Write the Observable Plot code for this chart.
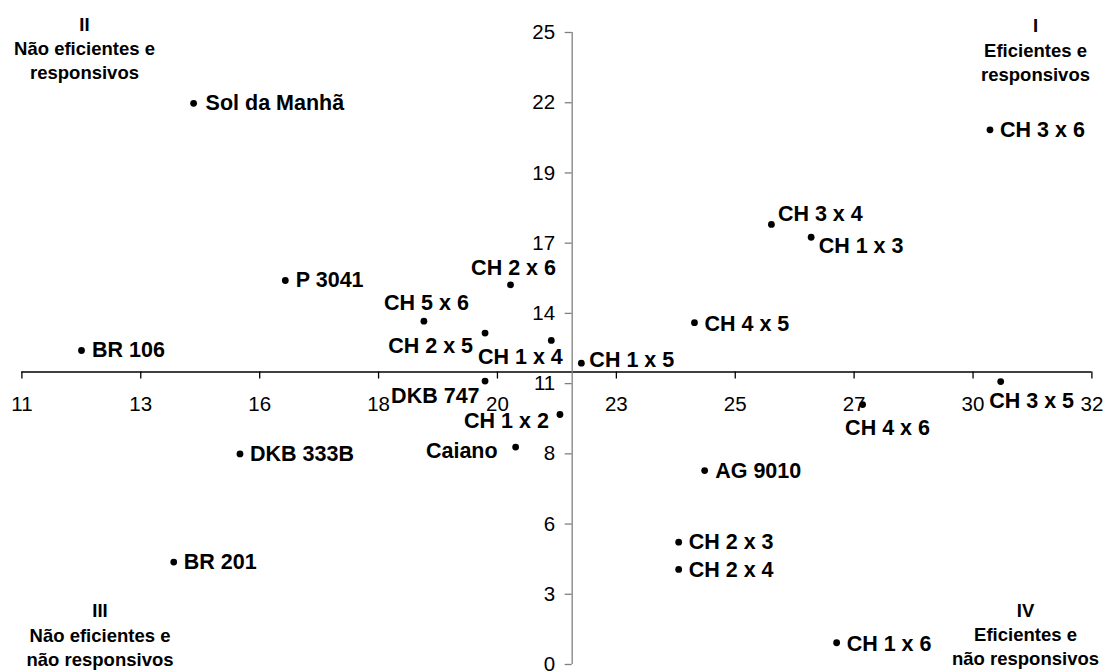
<!DOCTYPE html>
<html>
<head>
<meta charset="utf-8">
<script src="https://cdn.jsdelivr.net/npm/d3@7"></script>
<script src="https://cdn.jsdelivr.net/npm/@observablehq/plot@0.6"></script>
<style>
  html, body { margin: 0; padding: 0; background: #fff; }
  #chart svg { display: block; }
</style>
</head>
<body>
<div id="chart"></div>
<script>
// ---- data ----
const names = ["Sol da Manhã","P 3041","BR 106","DKB 333B","BR 201","Caiano","CH 1 x 2","CH 2 x 6","CH 5 x 6","CH 2 x 5","CH 1 x 4","CH 1 x 5","DKB 747","CH 3 x 6","CH 3 x 4","CH 1 x 3","CH 4 x 5","CH 3 x 5","CH 4 x 6","AG 9010","CH 2 x 3","CH 2 x 4","CH 1 x 6"];
const xValues = [14.37,16.17,12.17,15.28,13.98,20.69,21.56,20.59,18.89,20.09,21.39,21.98,20.09,30.00,25.71,26.49,24.20,30.21,27.50,24.40,23.89,23.89,26.99];
const yValues = [22.20,15.19,12.42,8.33,4.05,8.60,9.89,15.02,13.58,13.11,12.82,11.92,11.21,21.15,17.41,16.90,13.52,11.19,10.28,7.67,4.84,3.76,0.86];

const xTicks = [11, 13.333, 15.667, 18, 20.333, 22.667, 25, 27.333, 29.667, 32];
const xTickLabels = ["11","13","16","18","20","23","25","27","30","32"];
const yTicks = [0, 2.778, 5.556, 8.333, 11.111, 13.889, 16.667, 19.444, 22.222, 25];
const yTickLabels = ["0","3","6","8","11","14","17","19","22","25"];

// axes cross at the means
const xCross = 21.8;
const yCross = 11.57;

const quadrantLabels = ["I\nEficientes e\nresponsivos", "II\nNão eficientes e\nresponsivos", "III\nNão eficientes e\nnão responsivos", "IV\nEficientes e\nnão responsivos"];

// ---- layout (label placement: anchor, dx, dy) ----
const labelPlacement = {
  "Sol da Manhã": ["start", 12, 0],
  "P 3041": ["start", 10.5, 0],
  "BR 106": ["start", 10.5, 0],
  "DKB 333B": ["start", 10, 0],
  "BR 201": ["start", 10, 0],
  "Caiano": ["end", -18, 4],
  "CH 1 x 2": ["end", -11, 7],
  "CH 2 x 6": ["middle", 3, -17],
  "CH 5 x 6": ["middle", 2.5, -18],
  "CH 2 x 5": ["end", -12, 13],
  "CH 1 x 4": ["end", 11.5, 17],
  "CH 1 x 5": ["start", 8, -3],
  "DKB 747": ["end", -5.5, 15],
  "CH 3 x 6": ["start", 10, 0],
  "CH 3 x 4": ["start", 6.5, -10],
  "CH 1 x 3": ["start", 7.5, 9],
  "CH 4 x 5": ["start", 10, 1],
  "CH 3 x 5": ["start", -11.5, 19],
  "CH 4 x 6": ["start", -17.5, 23.5],
  "AG 9010": ["start", 10.5, 1],
  "CH 2 x 3": ["start", 10, 0],
  "CH 2 x 4": ["start", 10, 1],
  "CH 1 x 6": ["start", 10, 1]
};

const points = names.map((n, i) => ({name: n, x: xValues[i], y: yValues[i]}));

const labelMarks = points.map(p => {
  const [anchor, dx, dy] = labelPlacement[p.name];
  return Plot.text([p], {x: "x", y: "y", text: "name", textAnchor: anchor, dx, dy,
    fontSize: 21.5, fontWeight: "bold", fill: "black"});
});

const qStyle = {fontSize: 18.5, fontWeight: "bold", fill: "black", lineHeight: 1.3, textAnchor: "middle", lineAnchor: "middle"};

const chart = Plot.plot({
  width: 1104,
  height: 671,
  marginLeft: 21.4,
  marginRight: 12.6,
  marginTop: 32,
  marginBottom: 7,
  style: {fontFamily: "'Liberation Sans', Arial, sans-serif", background: "white", color: "black", overflow: "visible"},
  x: {domain: [11, 32], axis: null},
  y: {domain: [0, 25], axis: null},
  marks: [
    // x axis
    Plot.ruleY([yCross], {x1: 11, x2: 32, stroke: "black", strokeWidth: 1.3}),
    Plot.ruleX(xTicks, {x: d => d, y1: yCross, y2: yCross, insetBottom: -7, stroke: "black", strokeWidth: 1.3}),
    Plot.text(xTicks, {x: d => d, y: yCross, text: (d, i) => xTickLabels[i], dy: 32, fontSize: 20.5, fill: "black"}),
    // y axis
    Plot.ruleX([xCross], {y1: 0, y2: 25, stroke: "#808080", strokeWidth: 1.3}),
    Plot.ruleY(yTicks, {y: d => d, x1: xCross, x2: xCross, insetLeft: -7, stroke: "#808080", strokeWidth: 1.3}),
    Plot.text(yTicks, {x: xCross, y: d => d, text: (d, i) => yTickLabels[i], textAnchor: "end", dx: -17, fontSize: 20.5, fill: "black"}),
    // points
    Plot.dot(points, {x: "x", y: "y", r: 3.4, fill: "black", stroke: "none"}),
    ...labelMarks,
    // quadrant labels
    Plot.text([quadrantLabels[0]], {frameAnchor: "top-right", dx: -56.4, dy: 16.3, ...qStyle}),
    Plot.text([quadrantLabels[1]], {frameAnchor: "top-left", dx: 62.6, dy: 14.7, ...qStyle}),
    Plot.text([quadrantLabels[2]], {frameAnchor: "bottom-left", dx: 78.1, dy: -30.7, ...qStyle}),
    Plot.text([quadrantLabels[3]], {frameAnchor: "bottom-right", dx: -66.4, dy: -31.3, ...qStyle})
  ]
});

document.getElementById("chart").appendChild(chart);
</script>
</body>
</html>
